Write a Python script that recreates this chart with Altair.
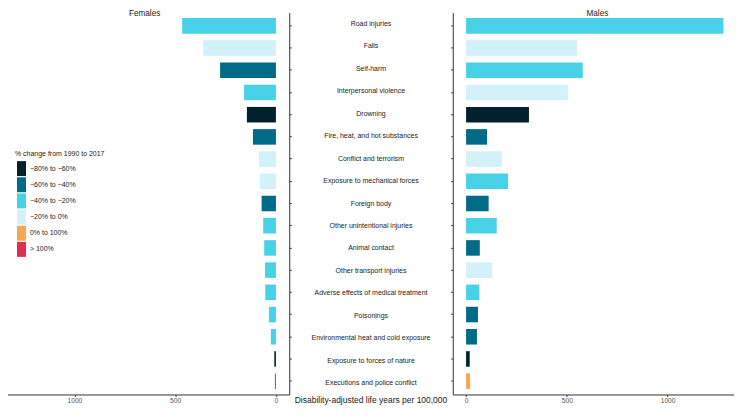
import altair as alt
import pandas as pd

causes = [
    "Road injuries", "Falls", "Self-harm", "Interpersonal violence", "Drowning",
    "Fire, heat, and hot substances", "Conflict and terrorism",
    "Exposure to mechanical forces", "Foreign body", "Other unintentional injuries",
    "Animal contact", "Other transport injuries", "Adverse effects of medical treatment",
    "Poisonings", "Environmental heat and cold exposure", "Exposure to forces of nature",
    "Executions and police conflict",
]
female_dalys = [465, 361, 277, 158, 144, 114, 84, 79, 71, 63, 58, 54, 53, 35, 25, 8, 5]
male_dalys = [1277, 550, 579, 505, 312, 104, 177, 208, 112, 152, 68, 130, 66, 59, 54, 18, 20]

M = "\u2212"
change_bins = [f"{M}80% to {M}60%", f"{M}60% to {M}40%", f"{M}40% to {M}20%",
               f"{M}20% to 0%", "0% to 100%", "> 100%"]
bin_colors = ["#01222d", "#006b88", "#48d2e8", "#d3f1f8", "#f9a74f", "#dd3054"]

female_change = [change_bins[i] for i in [2, 3, 1, 2, 0, 1, 3, 3, 1, 2, 2, 2, 2, 2, 2, 0, 5]]
male_change = [change_bins[i] for i in [2, 3, 2, 3, 0, 1, 3, 2, 1, 2, 1, 3, 2, 1, 1, 0, 4]]

df_f = pd.DataFrame({"cause": causes, "dalys": female_dalys, "change": female_change})
df_m = pd.DataFrame({"cause": causes, "dalys": male_dalys, "change": male_change})
df_mid = pd.DataFrame({"cause": causes})

FONT = "Liberation Sans"
y_scale = alt.Scale(domain=causes, paddingInner=0.3, paddingOuter=0.25)

color = alt.Color(
    "change:N",
    scale=alt.Scale(domain=change_bins, range=bin_colors),
    legend=alt.Legend(
        title="% change from 1990 to 2017", orient="none", legendX=15, legendY=138,
        symbolType="M-0.73,-1H0.47V1H-0.73Z", symbolSize=225, symbolStrokeWidth=0,
        symbolOpacity=1, labelOffset=0, rowPadding=1.2, titleFontSize=7,
        labelFontSize=7, titleFontWeight="normal", titlePadding=4, padding=0,
        titleFont=FONT, labelFont=FONT, titleColor="#1a1a1a", labelColor="#1a1a1a",
    ),
)

def x_axis():
    return alt.Axis(values=[0, 500, 1000], title=None, grid=False, tickSize=2,
                    labelPadding=1, format="d")

def panel_title(text):
    return alt.TitleParams(text, fontSize=8.2, fontWeight="normal", anchor="middle",
                           offset=-5.5, font=FONT, color="#1a1a1a")

fem = alt.Chart(df_f).mark_bar().encode(
    x=alt.X("dalys:Q", scale=alt.Scale(domain=[-66, 1369], reverse=True, nice=False, zero=False),
            axis=x_axis()),
    x2=alt.datum(0),
    y=alt.Y("cause:N", sort=causes, scale=y_scale,
            axis=alt.Axis(orient="right", labels=False, title=None, tickSize=2, grid=False)),
    color=color,
).properties(width=290, height=383, title=panel_title("Females"))

mid = alt.Chart(df_mid).mark_text(fontSize=7, font=FONT, color="#1a1a1a").encode(
    y=alt.Y("cause:N", sort=causes, scale=y_scale, axis=None, bandPosition=0.5),
    text="cause:N",
).properties(width=158, height=383)

male = alt.Chart(df_m).mark_bar().encode(
    x=alt.X("dalys:Q", scale=alt.Scale(domain=[-66, 1369], nice=False, zero=False),
            axis=x_axis()),
    x2=alt.datum(0),
    y=alt.Y("cause:N", sort=causes, scale=y_scale,
            axis=alt.Axis(orient="left", labels=False, title=None, tickSize=2, grid=False)),
    color=color,
).properties(width=290, height=383, title=panel_title("Males"))

chart = alt.hconcat(fem, mid, male, spacing=0).resolve_scale(
    color="shared", x="independent", y="independent"
).properties(
    title=alt.TitleParams("Disability-adjusted life years per 100,000", orient="bottom",
                          anchor="middle", fontSize=8.5, fontWeight="normal", offset=-8.5,
                          font=FONT, color="#1a1a1a"),
    padding={"left": -8, "top": 0, "right": -8, "bottom": 0},
).configure(font=FONT).configure_view(stroke=None).configure_axis(
    domainColor="#333333", tickColor="#333333", labelColor="#555555",
    labelFontSize=6.7, labelFont=FONT, domainWidth=1, tickWidth=1,
)

chart.save("out.html", embed_options={"renderer": "svg", "actions": False})
